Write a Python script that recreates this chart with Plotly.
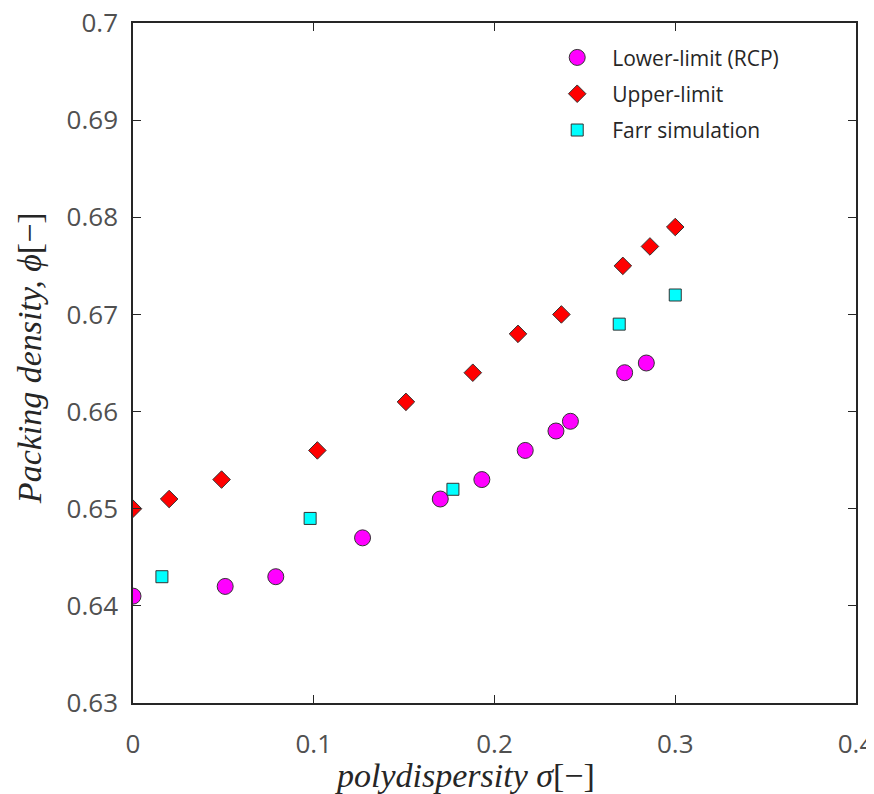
import plotly.graph_objects as go

# Lower-limit (RCP)
lower_x = [0.0, 0.051, 0.079, 0.127, 0.170, 0.193, 0.217, 0.234, 0.242, 0.272, 0.284]
lower_y = [0.641, 0.642, 0.643, 0.647, 0.651, 0.653, 0.656, 0.658, 0.659, 0.664, 0.665]

# Upper-limit
upper_x = [0.0, 0.020, 0.049, 0.102, 0.151, 0.188, 0.213, 0.237, 0.271, 0.286, 0.300]
upper_y = [0.650, 0.651, 0.653, 0.656, 0.661, 0.664, 0.668, 0.670, 0.675, 0.677, 0.679]

# Farr simulation
farr_x = [0.016, 0.098, 0.177, 0.269, 0.300]
farr_y = [0.643, 0.649, 0.652, 0.669, 0.672]

x_ticks = [0, 0.1, 0.2, 0.3, 0.4]
x_tick_labels = ["0", "0.1", "0.2", "0.3", "0.4"]
y_ticks = [0.63, 0.64, 0.65, 0.66, 0.67, 0.68, 0.69, 0.70]
y_tick_labels = ["0.63", "0.64", "0.65", "0.66", "0.67", "0.68", "0.69", "0.7"]

edge = dict(color="#333333", width=1)

fig = go.Figure()
fig.add_trace(go.Scatter(x=lower_x, y=lower_y, mode="markers", name="Lower-limit (RCP)",
                         legendgroup="a",
                         marker=dict(symbol="circle", size=16, color="#FF00FF", line=edge)))
fig.add_trace(go.Scatter(x=upper_x, y=upper_y, mode="markers", name="Upper-limit",
                         legendgroup="b",
                         marker=dict(symbol="diamond", size=13.5, color="#FF0000", line=edge)))
fig.add_trace(go.Scatter(x=farr_x, y=farr_y, mode="markers", name="Farr simulation",
                         legendgroup="c",
                         marker=dict(symbol="square", size=12, color="#00FFFF", line=edge)))

axis_common = dict(
    showline=True, linecolor="#262626", linewidth=1.5, mirror="ticks",
    ticks="inside", ticklen=8, tickwidth=1.2, tickcolor="#262626",
    showgrid=False, zeroline=False, automargin=False,
    ticklabeloverflow="allow",
    tickfont=dict(family="Open Sans", size=26, color="#505050"),
)

fig.update_xaxes(range=[0, 0.4], tickvals=x_ticks, ticktext=x_tick_labels,
                 ticklabelstandoff=17, **axis_common)
fig.update_yaxes(range=[0.63, 0.70], tickvals=y_ticks, ticktext=y_tick_labels,
                 ticklabelstandoff=8, **axis_common)

# the page body has an 8px margin, so the figure is sized/offset to compensate
fig.update_layout(
    template="none",
    width=866, height=786,
    margin=dict(l=125, r=18, t=15, b=91, autoexpand=False),
    paper_bgcolor="white", plot_bgcolor="white",
    showlegend=True,
    legend=dict(x=0.566, y=0.979, xanchor="left", yanchor="top",
                bgcolor="rgba(0,0,0,0)", borderwidth=0,
                itemwidth=60, tracegroupgap=6,
                font=dict(family="Open Sans", size=21, color="#262626")),
    annotations=[
        dict(text="<i>polydispersity σ</i>[−]", xref="paper", yref="paper",
             x=0.459, y=-0.106, xanchor="center", yanchor="middle", showarrow=False,
             font=dict(family="Liberation Serif", size=34, color="#262626")),
        dict(text="<i>Packing density, ϕ</i>[−]", xref="paper", yref="paper",
             x=-0.144, y=0.507, xanchor="center", yanchor="middle", showarrow=False,
             textangle=-90,
             font=dict(family="Liberation Serif", size=34, color="#262626")),
    ],
)

fig.write_html("out.html")
